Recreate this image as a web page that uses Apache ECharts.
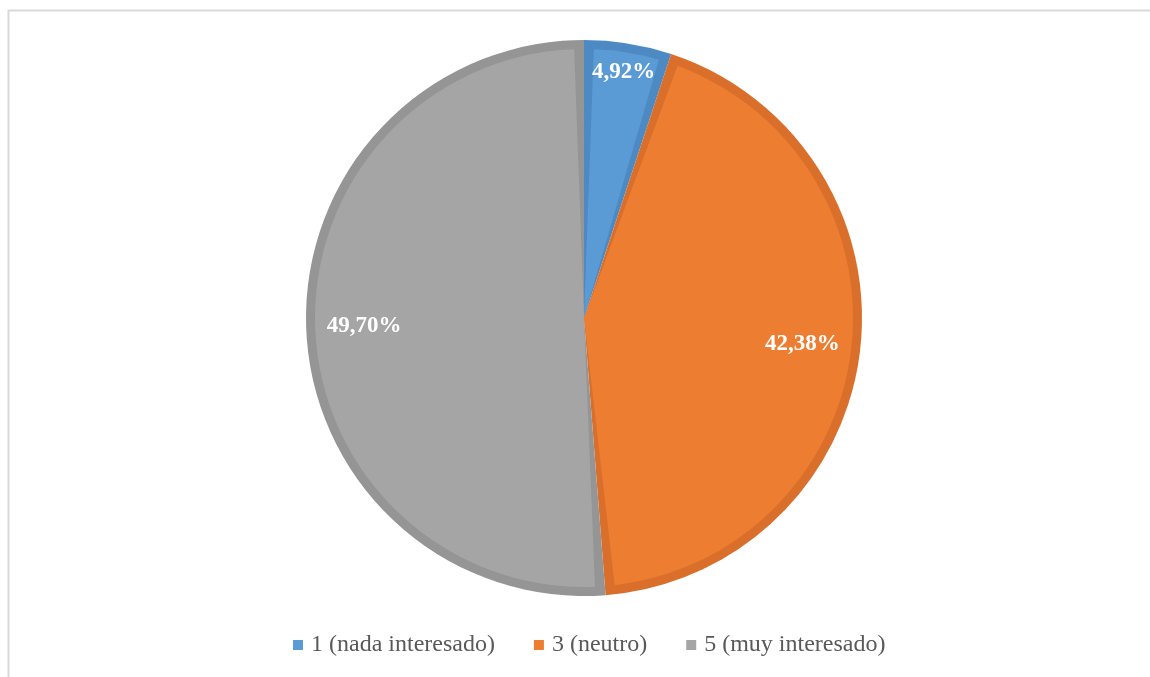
<!DOCTYPE html>
<html>
<head>
<meta charset="utf-8">
<script src="https://cdn.jsdelivr.net/npm/echarts@6/dist/echarts.min.js"></script>
<style>
  html, body { margin: 0; padding: 0; background: #ffffff; }
  #chart { width: 1150px; height: 677px; }
</style>
</head>
<body>
<div id="chart"></div>
<script>
// Survey answers: level of interest
const categories = ['1 (nada interesado)', '3 (neutro)', '5 (muy interesado)'];
const shares = [4.92, 42.38, 49.70];

// Fill colours and the darker edge band of each slice
const fillColors = ['#5B9BD5', '#ED7D31', '#A5A5A5'];
const edgeColors = ['#4D8AC4', '#D96F2A', '#959595'];

const fmt = p => p.value.toFixed(2).replace('.', ',') + '%';

const CENTER = [584, 318];
const R = 278;

const chart = echarts.init(document.getElementById('chart'), null, { renderer: 'canvas' });

const baseData = categories.map((c, i) => ({ name: c, value: shares[i], itemStyle: { color: edgeColors[i] } }));
const fillData = categories.map((c, i) => ({ name: c, value: shares[i], itemStyle: { color: fillColors[i] } }));

// label layers: the small slice carries its label nearer the rim
const labelData = (showSmall) => categories.map((c, i) => ({
  name: c, value: shares[i],
  label: { show: showSmall ? i === 0 : i !== 0 }
}));

const labelStyle = {
  position: 'inside',
  formatter: fmt,
  color: '#ffffff',
  fontFamily: 'Liberation Serif',
  fontWeight: 'bold',
  fontSize: 23
};

chart.setOption({
  animation: false,
  backgroundColor: '#ffffff',
  graphic: [{
    type: 'rect',
    shape: { x: 8.5, y: 10.5, width: 1160, height: 720 },
    style: { fill: 'none', stroke: '#d9d9d9', lineWidth: 2 },
    silent: true
  }],
  legend: {
    bottom: 15,
    left: 288,
    icon: 'rect',
    itemWidth: 10,
    itemHeight: 10,
    itemGap: 39,
    textStyle: {
      color: '#595959',
      fontFamily: 'Liberation Serif',
      fontSize: 24,
      padding: [0, 0, 0, 3]
    },
    data: categories.map((c, i) => ({ name: c, itemStyle: { color: fillColors[i] } }))
  },
  series: [
    {
      name: 'base',
      type: 'pie',
      center: CENTER,
      radius: R,
      startAngle: 90,
      clockwise: true,
      label: { show: false },
      labelLine: { show: false },
      emphasis: { disabled: true },
      silent: true,
      data: baseData
    },
    {
      name: 'fill',
      type: 'pie',
      center: CENTER,
      radius: R - 9,
      startAngle: 90,
      clockwise: true,
      padAngle: 4.2,
      label: { show: false },
      labelLine: { show: false },
      emphasis: { disabled: true },
      silent: true,
      data: fillData
    },
    {
      name: 'labels',
      type: 'pie',
      center: CENTER,
      radius: [156, R],
      startAngle: 90,
      clockwise: true,
      itemStyle: { color: 'transparent' },
      label: labelStyle,
      labelLine: { show: false },
      emphasis: { disabled: true },
      silent: true,
      data: labelData(false)
    },
    {
      name: 'labelsSmall',
      type: 'pie',
      center: CENTER,
      radius: [214, R],
      startAngle: 90,
      clockwise: true,
      itemStyle: { color: 'transparent' },
      label: labelStyle,
      labelLine: { show: false },
      emphasis: { disabled: true },
      silent: true,
      data: labelData(true)
    }
  ]
});
</script>
</body>
</html>
